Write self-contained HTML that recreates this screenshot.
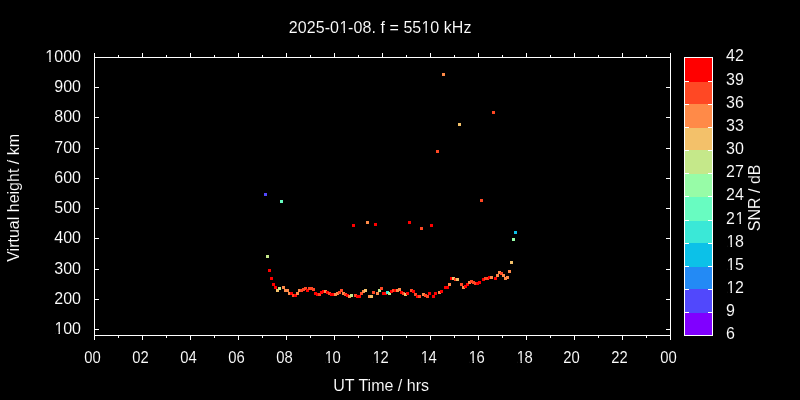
<!DOCTYPE html>
<html><head><meta charset="utf-8"><title>2025-01-08. f = 5510 kHz</title>
<style>html,body{margin:0;padding:0;background:#000;}svg{display:block}text{font-family:"Liberation Sans",Arial,Helvetica,sans-serif;font-size:16px;fill:#fff;stroke:#000;stroke-width:0.1px}</style>
</head><body>
<svg width="800" height="400" viewBox="0 0 800 400">
<rect x="0" y="0" width="800" height="400" fill="#000"/>
<g shape-rendering="crispEdges">
<rect x="685" y="313" width="27" height="23" fill="#8000ff"/>
<rect x="685" y="289" width="27" height="24" fill="#5148fc"/>
<rect x="685" y="267" width="27" height="22" fill="#238af5"/>
<rect x="685" y="243" width="27" height="24" fill="#0cc1e8"/>
<rect x="685" y="221" width="27" height="22" fill="#3ae8d7"/>
<rect x="685" y="197" width="27" height="24" fill="#68fcc1"/>
<rect x="685" y="174" width="27" height="23" fill="#97fca7"/>
<rect x="685" y="150" width="27" height="24" fill="#c5e88a"/>
<rect x="685" y="128" width="27" height="22" fill="#f3c16a"/>
<rect x="685" y="104" width="27" height="24" fill="#ff8a48"/>
<rect x="685" y="82" width="27" height="22" fill="#ff4824"/>
<rect x="685" y="57" width="27" height="25" fill="#ff0000"/>
<g fill="#fff">
<rect x="684" y="57" width="29" height="1"/><rect x="684" y="335" width="29" height="1"/>
<rect x="684" y="57" width="1" height="279"/><rect x="712" y="57" width="1" height="279"/>
<rect x="685" y="312" width="4" height="1"/><rect x="708" y="312" width="4" height="1"/>
<rect x="685" y="289" width="4" height="1"/><rect x="708" y="289" width="4" height="1"/>
<rect x="685" y="266" width="4" height="1"/><rect x="708" y="266" width="4" height="1"/>
<rect x="685" y="243" width="4" height="1"/><rect x="708" y="243" width="4" height="1"/>
<rect x="685" y="220" width="4" height="1"/><rect x="708" y="220" width="4" height="1"/>
<rect x="685" y="196" width="4" height="1"/><rect x="708" y="196" width="4" height="1"/>
<rect x="685" y="173" width="4" height="1"/><rect x="708" y="173" width="4" height="1"/>
<rect x="685" y="150" width="4" height="1"/><rect x="708" y="150" width="4" height="1"/>
<rect x="685" y="127" width="4" height="1"/><rect x="708" y="127" width="4" height="1"/>
<rect x="685" y="104" width="4" height="1"/><rect x="708" y="104" width="4" height="1"/>
<rect x="685" y="81" width="4" height="1"/><rect x="708" y="81" width="4" height="1"/>
<rect x="94" y="57" width="577" height="1"/><rect x="94" y="335" width="577" height="1"/>
<rect x="94" y="57" width="1" height="279"/><rect x="670" y="57" width="1" height="279"/>
<rect x="94" y="53" width="1" height="4"/><rect x="94" y="336" width="1" height="4"/>
<rect x="118" y="55" width="1" height="2"/><rect x="118" y="336" width="1" height="2"/>
<rect x="142" y="53" width="1" height="4"/><rect x="142" y="336" width="1" height="4"/>
<rect x="166" y="55" width="1" height="2"/><rect x="166" y="336" width="1" height="2"/>
<rect x="190" y="53" width="1" height="4"/><rect x="190" y="336" width="1" height="4"/>
<rect x="214" y="55" width="1" height="2"/><rect x="214" y="336" width="1" height="2"/>
<rect x="238" y="53" width="1" height="4"/><rect x="238" y="336" width="1" height="4"/>
<rect x="262" y="55" width="1" height="2"/><rect x="262" y="336" width="1" height="2"/>
<rect x="286" y="53" width="1" height="4"/><rect x="286" y="336" width="1" height="4"/>
<rect x="310" y="55" width="1" height="2"/><rect x="310" y="336" width="1" height="2"/>
<rect x="334" y="53" width="1" height="4"/><rect x="334" y="336" width="1" height="4"/>
<rect x="358" y="55" width="1" height="2"/><rect x="358" y="336" width="1" height="2"/>
<rect x="382" y="53" width="1" height="4"/><rect x="382" y="336" width="1" height="4"/>
<rect x="406" y="55" width="1" height="2"/><rect x="406" y="336" width="1" height="2"/>
<rect x="430" y="53" width="1" height="4"/><rect x="430" y="336" width="1" height="4"/>
<rect x="454" y="55" width="1" height="2"/><rect x="454" y="336" width="1" height="2"/>
<rect x="478" y="53" width="1" height="4"/><rect x="478" y="336" width="1" height="4"/>
<rect x="502" y="55" width="1" height="2"/><rect x="502" y="336" width="1" height="2"/>
<rect x="526" y="53" width="1" height="4"/><rect x="526" y="336" width="1" height="4"/>
<rect x="550" y="55" width="1" height="2"/><rect x="550" y="336" width="1" height="2"/>
<rect x="574" y="53" width="1" height="4"/><rect x="574" y="336" width="1" height="4"/>
<rect x="598" y="55" width="1" height="2"/><rect x="598" y="336" width="1" height="2"/>
<rect x="622" y="53" width="1" height="4"/><rect x="622" y="336" width="1" height="4"/>
<rect x="646" y="55" width="1" height="2"/><rect x="646" y="336" width="1" height="2"/>
<rect x="670" y="53" width="1" height="4"/><rect x="670" y="336" width="1" height="4"/>
<rect x="95" y="329" width="4" height="1"/><rect x="666" y="329" width="4" height="1"/>
<rect x="95" y="299" width="4" height="1"/><rect x="666" y="299" width="4" height="1"/>
<rect x="95" y="269" width="4" height="1"/><rect x="666" y="269" width="4" height="1"/>
<rect x="95" y="238" width="4" height="1"/><rect x="666" y="238" width="4" height="1"/>
<rect x="95" y="208" width="4" height="1"/><rect x="666" y="208" width="4" height="1"/>
<rect x="95" y="178" width="4" height="1"/><rect x="666" y="178" width="4" height="1"/>
<rect x="95" y="148" width="4" height="1"/><rect x="666" y="148" width="4" height="1"/>
<rect x="95" y="117" width="4" height="1"/><rect x="666" y="117" width="4" height="1"/>
<rect x="95" y="87" width="4" height="1"/><rect x="666" y="87" width="4" height="1"/>
<rect x="95" y="57" width="4" height="1"/><rect x="666" y="57" width="4" height="1"/>
</g>
<rect x="264" y="193" width="3" height="3" fill="#5148fc"/>
<rect x="280" y="200" width="3" height="3" fill="#68fcc1"/>
<rect x="352" y="224" width="3" height="3" fill="#ff0000"/>
<rect x="366" y="221" width="3" height="3" fill="#ff8a48"/>
<rect x="374" y="223" width="3" height="3" fill="#ff0000"/>
<rect x="408" y="221" width="3" height="3" fill="#ff0000"/>
<rect x="420" y="227" width="3" height="3" fill="#ff4824"/>
<rect x="430" y="224" width="3" height="3" fill="#ff0000"/>
<rect x="436" y="150" width="3" height="3" fill="#ff4824"/>
<rect x="442" y="73" width="3" height="3" fill="#ff8a48"/>
<rect x="458" y="123" width="3" height="3" fill="#f3c16a"/>
<rect x="492" y="111" width="3" height="3" fill="#ff4824"/>
<rect x="480" y="199" width="3" height="3" fill="#ff4824"/>
<rect x="266" y="255" width="3" height="3" fill="#c5e88a"/>
<rect x="268" y="269" width="3" height="3" fill="#ff0000"/>
<rect x="270" y="277" width="3" height="3" fill="#ff0000"/>
<rect x="272" y="283" width="3" height="3" fill="#ff0000"/>
<rect x="274" y="286" width="3" height="3" fill="#ff0000"/>
<rect x="276" y="289" width="3" height="3" fill="#f3c16a"/>
<rect x="278" y="287" width="3" height="3" fill="#c5e88a"/>
<rect x="282" y="286" width="3" height="3" fill="#ff8a48"/>
<rect x="284" y="289" width="3" height="3" fill="#ff8a48"/>
<rect x="286" y="289" width="3" height="3" fill="#ff8a48"/>
<rect x="288" y="292" width="3" height="3" fill="#ff8a48"/>
<rect x="290" y="292" width="3" height="3" fill="#ff0000"/>
<rect x="292" y="294" width="3" height="3" fill="#ff4824"/>
<rect x="294" y="294" width="3" height="3" fill="#ff0000"/>
<rect x="296" y="292" width="3" height="3" fill="#ff8a48"/>
<rect x="298" y="289" width="3" height="3" fill="#ff8a48"/>
<rect x="300" y="289" width="3" height="3" fill="#ff4824"/>
<rect x="302" y="288" width="3" height="3" fill="#ff4824"/>
<rect x="304" y="287" width="3" height="3" fill="#ff4824"/>
<rect x="306" y="289" width="3" height="3" fill="#ff0000"/>
<rect x="308" y="287" width="3" height="3" fill="#ff4824"/>
<rect x="310" y="287" width="3" height="3" fill="#ff4824"/>
<rect x="312" y="288" width="3" height="3" fill="#ff4824"/>
<rect x="314" y="292" width="3" height="3" fill="#ff0000"/>
<rect x="316" y="293" width="3" height="3" fill="#ff0000"/>
<rect x="318" y="293" width="3" height="3" fill="#ff4824"/>
<rect x="320" y="291" width="3" height="3" fill="#ff0000"/>
<rect x="322" y="290" width="3" height="3" fill="#ff0000"/>
<rect x="324" y="290" width="3" height="3" fill="#ff8a48"/>
<rect x="326" y="291" width="3" height="3" fill="#ff0000"/>
<rect x="328" y="292" width="3" height="3" fill="#ff4824"/>
<rect x="330" y="293" width="3" height="3" fill="#ff0000"/>
<rect x="332" y="293" width="3" height="3" fill="#ff0000"/>
<rect x="334" y="293" width="3" height="3" fill="#ff8a48"/>
<rect x="336" y="292" width="3" height="3" fill="#ff8a48"/>
<rect x="338" y="291" width="3" height="3" fill="#ff4824"/>
<rect x="340" y="289" width="3" height="3" fill="#ff4824"/>
<rect x="342" y="292" width="3" height="3" fill="#ff8a48"/>
<rect x="344" y="293" width="3" height="3" fill="#ff4824"/>
<rect x="346" y="294" width="3" height="3" fill="#ff0000"/>
<rect x="348" y="295" width="3" height="3" fill="#ff8a48"/>
<rect x="350" y="294" width="3" height="3" fill="#c5e88a"/>
<rect x="354" y="294" width="3" height="3" fill="#ff4824"/>
<rect x="356" y="295" width="3" height="3" fill="#ff0000"/>
<rect x="358" y="295" width="3" height="3" fill="#ff0000"/>
<rect x="360" y="292" width="3" height="3" fill="#ff4824"/>
<rect x="362" y="290" width="3" height="3" fill="#ff8a48"/>
<rect x="364" y="289" width="3" height="3" fill="#f3c16a"/>
<rect x="368" y="295" width="3" height="3" fill="#ff8a48"/>
<rect x="370" y="295" width="3" height="3" fill="#f3c16a"/>
<rect x="372" y="291" width="3" height="3" fill="#ff4824"/>
<rect x="376" y="292" width="3" height="3" fill="#ff8a48"/>
<rect x="378" y="289" width="3" height="3" fill="#c5e88a"/>
<rect x="380" y="287" width="3" height="3" fill="#ff4824"/>
<rect x="382" y="292" width="3" height="3" fill="#ff0000"/>
<rect x="384" y="292" width="3" height="3" fill="#ff0000"/>
<rect x="386" y="291" width="3" height="3" fill="#3ae8d7"/>
<rect x="388" y="292" width="3" height="3" fill="#c5e88a"/>
<rect x="390" y="290" width="3" height="3" fill="#ff0000"/>
<rect x="392" y="289" width="3" height="3" fill="#ff4824"/>
<rect x="394" y="289" width="3" height="3" fill="#ff0000"/>
<rect x="396" y="289" width="3" height="3" fill="#ff8a48"/>
<rect x="398" y="288" width="3" height="3" fill="#ff8a48"/>
<rect x="400" y="291" width="3" height="3" fill="#ff0000"/>
<rect x="402" y="292" width="3" height="3" fill="#ff4824"/>
<rect x="404" y="293" width="3" height="3" fill="#f3c16a"/>
<rect x="406" y="292" width="3" height="3" fill="#ff0000"/>
<rect x="410" y="289" width="3" height="3" fill="#ff4824"/>
<rect x="412" y="290" width="3" height="3" fill="#ff0000"/>
<rect x="414" y="293" width="3" height="3" fill="#ff4824"/>
<rect x="416" y="295" width="3" height="3" fill="#ff0000"/>
<rect x="418" y="295" width="3" height="3" fill="#ff4824"/>
<rect x="422" y="293" width="3" height="3" fill="#ff8a48"/>
<rect x="424" y="294" width="3" height="3" fill="#ff4824"/>
<rect x="426" y="295" width="3" height="3" fill="#ff4824"/>
<rect x="428" y="292" width="3" height="3" fill="#ff0000"/>
<rect x="432" y="295" width="3" height="3" fill="#ff0000"/>
<rect x="434" y="292" width="3" height="3" fill="#ff0000"/>
<rect x="438" y="291" width="3" height="3" fill="#ff8a48"/>
<rect x="440" y="290" width="3" height="3" fill="#ff0000"/>
<rect x="444" y="286" width="3" height="3" fill="#ff0000"/>
<rect x="446" y="286" width="3" height="3" fill="#ff0000"/>
<rect x="448" y="283" width="3" height="3" fill="#ff8a48"/>
<rect x="450" y="277" width="3" height="3" fill="#ff0000"/>
<rect x="452" y="277" width="3" height="3" fill="#f3c16a"/>
<rect x="454" y="278" width="3" height="3" fill="#ff4824"/>
<rect x="456" y="278" width="3" height="3" fill="#f3c16a"/>
<rect x="460" y="283" width="3" height="3" fill="#ff4824"/>
<rect x="462" y="286" width="3" height="3" fill="#ff8a48"/>
<rect x="464" y="285" width="3" height="3" fill="#ff0000"/>
<rect x="466" y="283" width="3" height="3" fill="#ff0000"/>
<rect x="468" y="281" width="3" height="3" fill="#ff8a48"/>
<rect x="470" y="280" width="3" height="3" fill="#ff4824"/>
<rect x="472" y="281" width="3" height="3" fill="#ff4824"/>
<rect x="474" y="282" width="3" height="3" fill="#ff4824"/>
<rect x="476" y="282" width="3" height="3" fill="#ff0000"/>
<rect x="478" y="281" width="3" height="3" fill="#ff0000"/>
<rect x="482" y="278" width="3" height="3" fill="#ff0000"/>
<rect x="484" y="277" width="3" height="3" fill="#ff4824"/>
<rect x="486" y="277" width="3" height="3" fill="#ff4824"/>
<rect x="488" y="276" width="3" height="3" fill="#ff0000"/>
<rect x="490" y="276" width="3" height="3" fill="#ff8a48"/>
<rect x="494" y="277" width="3" height="3" fill="#ff0000"/>
<rect x="496" y="274" width="3" height="3" fill="#ff8a48"/>
<rect x="498" y="271" width="3" height="3" fill="#ff8a48"/>
<rect x="500" y="272" width="3" height="3" fill="#ff4824"/>
<rect x="502" y="274" width="3" height="3" fill="#ff8a48"/>
<rect x="504" y="277" width="3" height="3" fill="#ff8a48"/>
<rect x="506" y="276" width="3" height="3" fill="#ff8a48"/>
<rect x="508" y="270" width="3" height="3" fill="#ff8a48"/>
<rect x="510" y="261" width="3" height="3" fill="#f3c16a"/>
<rect x="512" y="238" width="3" height="3" fill="#97fca7"/>
<rect x="514" y="231" width="3" height="3" fill="#0cc1e8"/>
</g>
<text x="288.84" y="33" letter-spacing="0.07" dx="0 0 0 0 0 0 0.5 -0.5 0 0 0 0 0 0 0 0 0 0 0.13 -0.13">2025-01-08. f = 5510 kHz</text>
<text x="54.305" y="334" dx="0.17 -0.17">100</text>
<text x="54.305" y="304">200</text>
<text x="54.305" y="274">300</text>
<text x="54.305" y="243">400</text>
<text x="54.305" y="213">500</text>
<text x="54.305" y="183">600</text>
<text x="54.305" y="153">700</text>
<text x="54.305" y="122">800</text>
<text x="54.305" y="92">900</text>
<text x="45.406" y="62" dx="-0.1 0.1">1000</text>
<text transform="translate(92.4,363) scale(0.927,1)" x="-8.898">00</text>
<text transform="translate(140.4,363) scale(0.927,1)" x="-8.898">02</text>
<text transform="translate(188.4,363) scale(0.927,1)" x="-8.898">04</text>
<text transform="translate(236.4,363) scale(0.927,1)" x="-8.898">06</text>
<text transform="translate(284.4,363) scale(0.927,1)" x="-8.898">08</text>
<text transform="translate(332.4,363) scale(0.927,1)" x="-8.898" dx="0.71 -0.71">10</text>
<text transform="translate(380.4,363) scale(0.927,1)" x="-8.898" dx="0.71 -0.71">12</text>
<text transform="translate(428.4,363) scale(0.927,1)" x="-8.898" dx="0.71 -0.71">14</text>
<text transform="translate(476.4,363) scale(0.927,1)" x="-8.898" dx="0.71 -0.71">16</text>
<text transform="translate(524.4,363) scale(0.927,1)" x="-8.898" dx="0.71 -0.71">18</text>
<text transform="translate(571.5,363) scale(0.927,1)" x="-8.898">20</text>
<text transform="translate(619.5,363) scale(0.927,1)" x="-8.898">22</text>
<text transform="translate(668.4,363) scale(0.927,1)" x="-8.898">00</text>
<text x="726.1" y="339">6</text>
<text x="726.1" y="316">9</text>
<text x="726.1" y="293" dx="0.4 -0.4">12</text>
<text x="726.1" y="270" dx="0.4 -0.4">15</text>
<text x="726.1" y="247" dx="0.4 -0.4">18</text>
<text x="726.1" y="224" dx="0 0.47">21</text>
<text x="726.1" y="200">24</text>
<text x="726.1" y="177">27</text>
<text x="726.1" y="154">30</text>
<text x="726.1" y="131">33</text>
<text x="726.1" y="108">36</text>
<text x="726.1" y="85">39</text>
<text x="726.1" y="61">42</text>
<text x="381.1" y="390.7" text-anchor="middle">UT Time / hrs</text>
<text transform="translate(19.2,197.9) rotate(-90)" text-anchor="middle">Virtual height / km</text>
<text transform="translate(759.8,197.8) rotate(-90)" text-anchor="middle">SNR / dB</text>
<g fill="#000">
<rect x="340.29" y="30.80" width="3.32" height="2.70"/>
<rect x="345.03" y="30.80" width="3.16" height="2.70"/>
<rect x="422.17" y="30.80" width="3.32" height="2.70"/>
<rect x="426.91" y="30.80" width="3.16" height="2.70"/>
<rect x="55.17" y="331.80" width="3.32" height="2.70"/>
<rect x="59.91" y="331.80" width="3.16" height="2.70"/>
<rect x="46.01" y="59.80" width="3.32" height="2.70"/>
<rect x="50.75" y="59.80" width="3.16" height="2.70"/>
<rect x="325.46" y="360.80" width="3.08" height="2.70"/>
<rect x="329.85" y="360.80" width="2.93" height="2.70"/>
<rect x="373.46" y="360.80" width="3.08" height="2.70"/>
<rect x="377.85" y="360.80" width="2.93" height="2.70"/>
<rect x="421.46" y="360.80" width="3.08" height="2.70"/>
<rect x="425.85" y="360.80" width="2.93" height="2.70"/>
<rect x="469.46" y="360.80" width="3.08" height="2.70"/>
<rect x="473.85" y="360.80" width="2.93" height="2.70"/>
<rect x="517.46" y="360.80" width="3.08" height="2.70"/>
<rect x="521.85" y="360.80" width="2.93" height="2.70"/>
<rect x="727.20" y="290.80" width="3.32" height="2.70"/>
<rect x="731.94" y="290.80" width="3.16" height="2.70"/>
<rect x="727.20" y="267.80" width="3.32" height="2.70"/>
<rect x="731.94" y="267.80" width="3.16" height="2.70"/>
<rect x="727.20" y="244.80" width="3.32" height="2.70"/>
<rect x="731.94" y="244.80" width="3.16" height="2.70"/>
<rect x="736.18" y="221.80" width="3.32" height="2.70"/>
<rect x="740.92" y="221.80" width="3.16" height="2.70"/>
</g>
</svg></body></html>
